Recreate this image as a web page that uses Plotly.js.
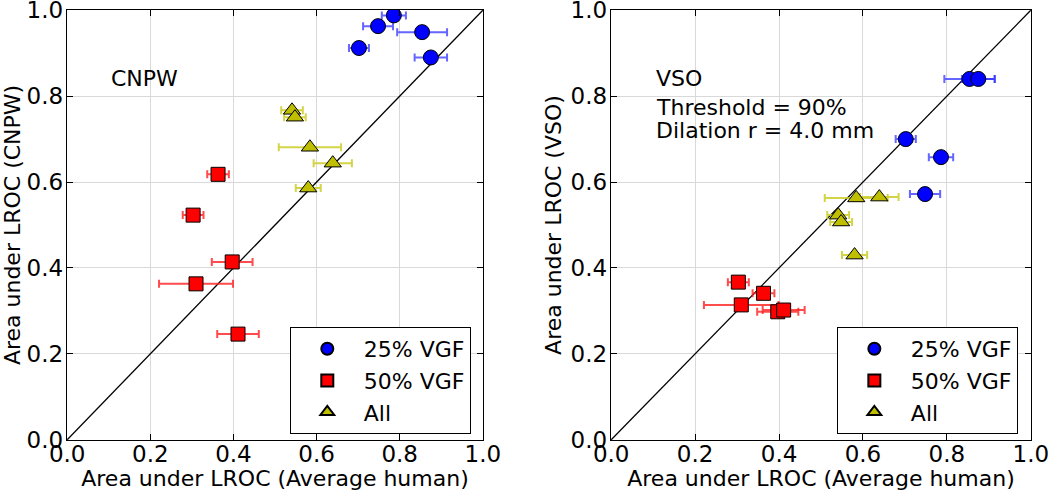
<!DOCTYPE html>
<html>
<head>
<meta charset="utf-8">
<script src="https://cdn.plot.ly/plotly-3.0.1.min.js"></script>
<style>html,body{margin:0;padding:0;background:#fff}#chart{width:1050px;height:491px}</style>
</head>
<body>
<div id="chart"></div>
<script>
// Human (x) values shared by both panels
const blueX = [0.786, 0.748, 0.854, 0.702, 0.875];
const blueXErr = [0.029, 0.036, 0.060, 0.024, 0.039];
const redX = [0.363, 0.303, 0.397, 0.310, 0.411];
const redXErr = [0.026, 0.025, 0.049, 0.089, 0.050];
const allX = [0.541, 0.548, 0.584, 0.639, 0.580];
const allXErr = [0.026, 0.026, 0.075, 0.046, 0.030];

// CNPW panel (left)
const blueCNPW = [0.988, 0.963, 0.949, 0.912, 0.890];
const redCNPW = [0.618, 0.523, 0.414, 0.363, 0.246];
const allCNPW = [0.767, 0.751, 0.681, 0.644, 0.586];

// VSO panel (right)
const blueVSO = [0.658, 0.572, 0.840, 0.700, 0.840];
const redVSO = [0.341, 0.367, 0.298, 0.314, 0.302];
const allVSO = [0.523, 0.507, 0.563, 0.565, 0.430];

const seriesNames = ["25% VGF", "50% VGF", "All"];
const diagX = [0, 1];
const diagY = [0, 1];
const tickVals = [0, 0.2, 0.4, 0.6, 0.8, 1.0];
const tickText = ["0.0", "0.2", "0.4", "0.6", "0.8", "1.0"];

const FONT = "DejaVu Sans, sans-serif";

function series(xs, errs, ys, name, symbol, fill, errColor, size, xa, ya, leg) {
  return {
    type: "scatter", mode: "markers", x: xs, y: ys, name: name,
    xaxis: xa, yaxis: ya, legend: leg, showlegend: true,
    marker: {symbol: symbol, size: size, color: fill, line: {color: "#000", width: 1}},
    error_x: {type: "data", array: errs, visible: true, color: errColor, thickness: 2, width: 4},
    hoverinfo: "x+y"
  };
}

function diag(xa, ya) {
  return {type: "scatter", mode: "lines", x: diagX, y: diagY, xaxis: xa, yaxis: ya,
    line: {color: "#000", width: 1.3}, showlegend: false, hoverinfo: "skip"};
}

const BLUE_ERR = "rgba(50,50,255,0.75)";
const RED_ERR = "rgba(255,30,30,0.8)";
const YEL_ERR = "rgba(205,205,40,0.85)";

const traces = [
  diag("x", "y"),
  series(blueX, blueXErr, blueCNPW, seriesNames[0], "circle", "#0000ff", BLUE_ERR, 15, "x", "y", "legend"),
  series(redX, redXErr, redCNPW, seriesNames[1], "square", "#ff0000", RED_ERR, 14, "x", "y", "legend"),
  series(allX, allXErr, allCNPW, seriesNames[2], "triangle-up", "#bfbf00", YEL_ERR, 15, "x", "y", "legend"),
  diag("x2", "y2"),
  series(blueX, blueXErr, blueVSO, seriesNames[0], "circle", "#0000ff", BLUE_ERR, 15, "x2", "y2", "legend2"),
  series(redX, redXErr, redVSO, seriesNames[1], "square", "#ff0000", RED_ERR, 14, "x2", "y2", "legend2"),
  series(allX, allXErr, allVSO, seriesNames[2], "triangle-up", "#bfbf00", YEL_ERR, 15, "x2", "y2", "legend2")
];

function axis(domain, anchor, title, isX) {
  return {
    domain: domain, anchor: anchor, range: [-0.0005, 1.0005],
    tickvals: tickVals, ticktext: tickText,
    tickfont: {family: FONT, size: 23, color: "#000"},
    ticks: "inside", ticklen: 6, tickcolor: "#000", tickwidth: 1,
    ticklabelstandoff: isX ? -7 : -2,
    ticklabeloverflow: "allow",
    showline: true, linecolor: "#000", linewidth: 1.3, mirror: "ticks",
    showgrid: true, gridcolor: "#d9d9d9", gridwidth: 1,
    zeroline: false, fixedrange: true,
    title: {text: title, font: {family: FONT, size: 22, color: "#000"}, standoff: isX ? 0 : 2}
  };
}

const legendStyle = (x) => ({
  x: x, y: 0.334, xanchor: "left", yanchor: "top",
  bgcolor: "#fff", bordercolor: "#000", borderwidth: 1,
  font: {family: FONT, size: 22, color: "#000"},
  itemsizing: "constant", itemwidth: 63
});

const annFont = {family: FONT, size: 22, color: "#000"};

const layout = {
  width: 1050, height: 491,
  margin: {l: 0, r: 0, t: 0, b: 0},
  paper_bgcolor: "#fff", plot_bgcolor: "#fff",
  showlegend: true,
  xaxis: axis([0.0638, 0.4600], "y", "Area under LROC (Average human)", true),
  yaxis: axis([0.1039, 0.9796], "x", "Area under LROC (CNPW)", false),
  xaxis2: axis([0.5819, 0.9819], "y2", "Area under LROC (Average human)", true),
  yaxis2: axis([0.1039, 0.9796], "x2", "Area under LROC (VSO)", false),
  legend: legendStyle(0.276),
  legend2: legendStyle(0.797),
  annotations: [
    {text: "CNPW", xref: "x", yref: "y", x: 0.1, y: 0.84, xanchor: "left", yanchor: "middle",
     showarrow: false, font: annFont},
    {text: "VSO", xref: "x2", yref: "y2", x: 0.103, y: 0.84, xanchor: "left", yanchor: "middle",
     showarrow: false, font: annFont},
    {text: "Threshold = 90%", xref: "x2", yref: "y2", x: 0.103, y: 0.774,
     xanchor: "left", yanchor: "middle", showarrow: false, font: annFont},
    {text: "Dilation r = 4.0 mm", xref: "x2", yref: "y2", x: 0.103, y: 0.721,
     xanchor: "left", yanchor: "middle", showarrow: false, font: annFont}
  ]
};

Plotly.newPlot("chart", traces, layout, {displayModeBar: false, staticPlot: true});
</script>
</body>
</html>
